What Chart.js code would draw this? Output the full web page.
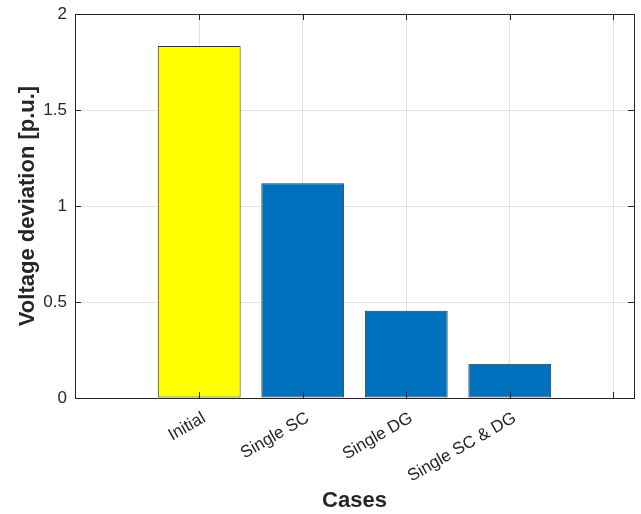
<!DOCTYPE html>
<html>
<head>
<meta charset="utf-8">
<script src="https://cdn.jsdelivr.net/npm/chart.js@4/dist/chart.umd.min.js"></script>
<style>
  html, body { margin: 0; padding: 0; background: #fff; }
  #wrap { width: 641px; height: 514px; }
</style>
</head>
<body>
<div id="wrap"><canvas id="barChart" width="641" height="514"></canvas></div>
<script>
// data
const categories = ['Initial', 'Single SC', 'Single DG', 'Single SC & DG'];
const positions = [1, 2, 3, 4];
const deviation = [1.833, 1.118, 0.455, 0.179];
const barColors = ['#FFFF00', '#0072BD', '#0072BD', '#0072BD'];
const xTicks = [1, 2, 3, 4, 5];
const yTicks = [0, 0.5, 1, 1.5, 2];

const ink = '#262626';
const font = 'Liberation Sans, Arial, Helvetica, sans-serif';

// matlab style box with inward tick marks
const boxPlugin = {
  id: 'box',
  afterDatasetsDraw(chart) {
    const ctx = chart.ctx;
    const a = chart.chartArea;
    const xs = chart.scales.x, ys = chart.scales.y;
    const len = 6;
    ctx.save();
    ctx.strokeStyle = ink;
    ctx.lineWidth = 1;
    ctx.beginPath();
    xTicks.forEach(v => {
      const px = Math.round(xs.getPixelForValue(v)) + 0.5;
      ctx.moveTo(px, a.bottom); ctx.lineTo(px, a.bottom - len);
      ctx.moveTo(px, a.top); ctx.lineTo(px, a.top + len);
    });
    yTicks.forEach(v => {
      const py = Math.round(ys.getPixelForValue(v)) + 0.5;
      ctx.moveTo(a.left, py); ctx.lineTo(a.left + len, py);
      ctx.moveTo(a.right, py); ctx.lineTo(a.right - len, py);
    });
    ctx.stroke();
    ctx.strokeRect(Math.round(a.left) + 0.5, Math.round(a.top) + 0.5,
                   Math.round(a.right - a.left), Math.round(a.bottom - a.top));
    ctx.restore();
  }
};

const ctx = document.getElementById('barChart');

new Chart(ctx, {
  type: 'bar',
  data: {
    datasets: [{
      data: positions.map((p, i) => ({ x: p, y: deviation[i] })),
      backgroundColor: barColors,
      borderColor: '#333333',
      borderWidth: 1,
      borderSkipped: false,
      barPercentage: 0.8,
      categoryPercentage: 1.0
    }]
  },
  options: {
    responsive: false,
    animation: false,
    layout: { padding: { top: 14, right: 7, left: 0, bottom: 0 } },
    plugins: { legend: { display: false }, tooltip: { enabled: false } },
    scales: {
      x: {
        type: 'linear',
        min: -0.2,
        max: 5.2,
        offset: false,
        afterBuildTicks: s => { s.ticks = xTicks.map(v => ({ value: v })); },
        afterFit: s => { s.height = 116; },
        grid: { color: '#e3e3e3', drawTicks: false, offset: false },
        border: { display: false },
        ticks: {
          autoSkip: false,
          minRotation: 30,
          maxRotation: 30,
          padding: 10,
          labelOffset: 5,
          color: ink,
          font: { family: font, size: 17 },
          callback: v => categories[v - 1] || ''
        },
        title: {
          display: true,
          text: 'Cases',
          color: ink,
          font: { family: font, size: 22, weight: 'bold' },
          padding: { top: 0, bottom: 0 }
        }
      },
      y: {
        min: 0,
        max: 2,
        afterBuildTicks: s => { s.ticks = yTicks.map(v => ({ value: v })); },
        afterFit: s => { s.width = 75; s.paddingTop = 0; s.paddingBottom = 0; },
        grid: { color: '#e3e3e3', drawTicks: false },
        border: { display: false },
        ticks: {
          padding: 8,
          color: ink,
          font: { family: font, size: 17 },
          callback: v => String(v)
        },
        title: {
          display: true,
          text: 'Voltage deviation [p.u.]',
          color: ink,
          font: { family: font, size: 22, weight: 'bold' },
          padding: { top: 15, bottom: 0 }
        }
      }
    }
  },
  plugins: [boxPlugin]
});
</script>
</body>
</html>
